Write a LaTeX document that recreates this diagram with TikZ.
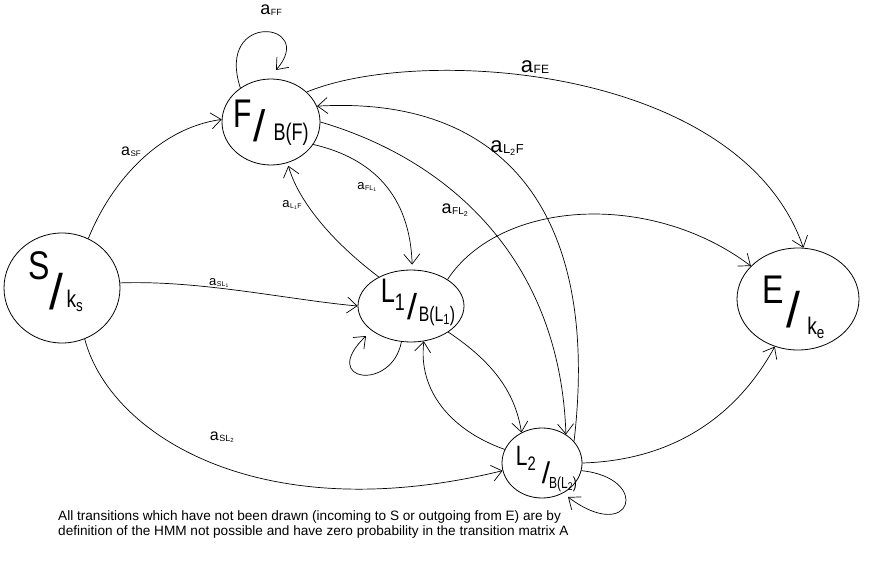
\documentclass[tikz,border=0pt]{standalone}
\usepackage{fontspec}
\setmainfont{Liberation Sans}
\usetikzlibrary{shapes.geometric,arrows.meta}

% edge label: a with a small lowered index
\newcommand\trlab[3]{{\fontsize{#1}{#1}\selectfont a}\kern0.5pt\raisebox{-0.25ex}{\fontsize{#2}{#2}\selectfont #3}}

\begin{document}
\begin{tikzpicture}[x=1pt,y=-1pt,
  state/.style={draw, ellipse, line width=0.8pt, inner sep=0pt},
  tr/.style={line width=0.7pt, -{Straight Barb[length=10pt,width=16pt,line width=0.7pt]}},
  big/.style={inner sep=0pt, font=\fontsize{40}{40}\selectfont},
  slash/.style={inner sep=0pt, font=\fontsize{50}{50}\selectfont},
  small/.style={inner sep=0pt, font=\fontsize{24}{24}\selectfont},
  lab/.style={inner sep=0pt}]
\useasboundingbox (0,0) rectangle (872,567);

% states
\node[state, minimum width=116pt, minimum height=110pt] (S)  at (62,288) {};
\node[state, minimum width=98pt,  minimum height=86pt]  (F)  at (271,122) {};
\node[state, minimum width=106pt, minimum height=72pt]  (L1) at (411,306) {};
\node[state, minimum width=122pt, minimum height=102pt] (E)  at (798,299) {};
\node[state, minimum width=80pt,  minimum height=70pt]  (L2) at (542,463) {};

% state names
\node[big] (S-n) at (39,266) {\scalebox{0.8}[1]{S}};
\node[slash] (S-s) at (56,292) {/};
\node[small] (S-k) at (75,301) {\scalebox{0.8}[1]{k\textsubscript{s}}};

\node[big] (F-n) at (243,114) {\scalebox{0.75}[1]{F}};
\node[slash, font=\fontsize{44}{44}\selectfont] (F-s) at (260,126) {/};
\node[small] (F-b) at (291,134) {\scalebox{0.75}[1]{B(F)}};

\node[big, font=\fontsize{34}{34}\selectfont] (L1-n) at (393,295) {\scalebox{0.75}[1]{L\textsubscript{1}}};
\node[slash, font=\fontsize{36}{36}\selectfont] (L1-s) at (412,307) {/};
\node[small, font=\fontsize{21}{21}\selectfont] (L1-b) at (437,316) {\scalebox{0.75}[1]{B(L\textsubscript{1})}};

\node[big] (E-n) at (773,290) {\scalebox{0.8}[1]{E}};
\node[slash] (E-s) at (793,310) {/};
\node[small] (E-k) at (816,328) {\scalebox{0.8}[1]{k\textsubscript{e}}};

\node[big, font=\fontsize{28}{28}\selectfont] (L2-n) at (526,458) {\scalebox{0.75}[1]{L\textsubscript{2}}};
\node[slash, font=\fontsize{30}{30}\selectfont] (L2-s) at (546,473) {/};
\node[small, font=\fontsize{16}{16}\selectfont] (L2-b) at (563,484) {\scalebox{0.75}[1]{B(L\textsubscript{2})}};

% free ends of the self loops
\coordinate (Floop) at (276,70);
\coordinate (L1loop) at (366,336);
\coordinate (L2loop) at (568,497);

% transitions
\draw[tr] (S.62) .. controls (112,180) and (160,128) .. (F.177);
\draw[tr] (F.132) .. controls (215,10) and (318,22) .. (Floop);
\draw[tr] (F.40) .. controls (420,45) and (740,65) .. (E.84);
\draw[tr] (L2.34) .. controls (600,220) and (510,95) .. (F.19);
\draw[tr] (F.0) .. controls (450,160) and (560,260) .. (L2.50);
\draw[tr, shorten >=5pt] (F.-28) .. controls (372,158) and (410,195) .. (L1.88);
\draw[tr, shorten >=3pt] (L1.138) .. controls (330,240) and (298,200) .. (F.-68);
\draw[tr] (S.5) .. controls (200,280) and (290,300) .. (L1.180);
\draw[tr] (L1.-105) .. controls (392,392) and (318,382) .. (L1loop);
\draw[tr] (L1.36) .. controls (500,200) and (650,190) .. (E.145);
\draw[tr] (L1.-35) .. controls (490,360) and (515,390) .. (L2.124);
\draw[tr] (L2.160) .. controls (450,430) and (418,390) .. (L1.-70);
\draw[tr] (S.-66) .. controls (110,435) and (260,530) .. (L2.-169);
\draw[tr] (L2.0) .. controls (680,460) and (740,410) .. (E.-116);
\draw[tr] (L2.-11) .. controls (652,478) and (632,545) .. (L2loop);

% transition labels
\node[lab] (l-ff)  at (271,10)  {\trlab{18}{9}{FF}};
\node[lab] (l-sf)  at (131,152) {\trlab{16}{8}{SF}};
\node[lab] (l-fe)  at (535,67)  {\trlab{22}{12}{FE}};
\node[lab] (l-l2f) at (507,148) {\trlab{22}{13}{L\textsubscript{2}F}};
\node[lab] (l-fl1) at (367,187) {\trlab{13}{7}{FL\textsubscript{1}}};
\node[lab] (l-fl2) at (455,210) {\trlab{18}{10}{FL\textsubscript{2}}};
\node[lab] (l-l1f) at (292,205) {\trlab{13}{7}{L\textsubscript{1}F}};
\node[lab] (l-sl1) at (219,283) {\trlab{13}{7}{SL\textsubscript{1}}};
\node[lab] (l-sl2) at (222,437) {\trlab{16}{9}{SL\textsubscript{2}}};

% note
\node[anchor=north west, inner sep=0pt, align=left,
      font=\fontsize{13.6}{15.5}\selectfont] (note) at (58,510)
  {All transitions which have not been drawn (incoming to S or outgoing from E) are by\\
   definition of the HMM not possible and have zero probability in the transition matrix A};
\end{tikzpicture}
\end{document}
